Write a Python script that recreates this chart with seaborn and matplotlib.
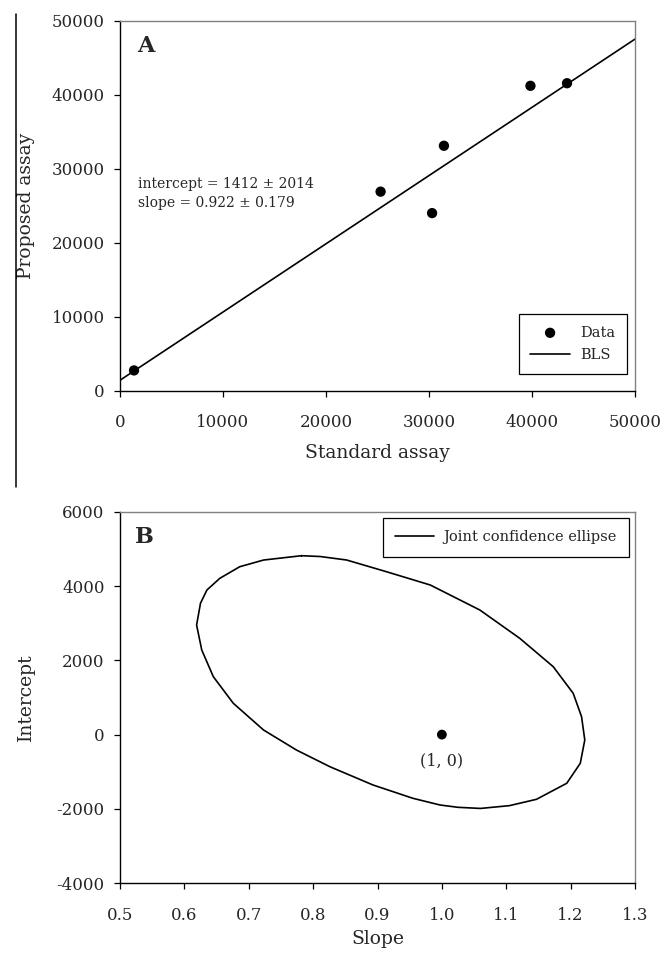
# Method comparison chart: BLS regression (A) and joint confidence ellipse (B)

import numpy as np
import pandas as pd
import matplotlib.pyplot as plt
from matplotlib.lines import Line2D
import seaborn as sns

# ---- data ----
standard_assay = [1360, 25300, 30300, 31450, 39850, 43400]
proposed_assay = [2740, 26900, 24000, 33100, 41200, 41550]

bls_intercept = 1412
bls_slope = 0.922
bls_x = [0, 50000]

ellipse_slope = [0.782, 0.811, 0.852, 0.914, 0.982, 1.059, 1.121, 1.173, 1.204, 1.217,
                 1.222, 1.215, 1.194, 1.147, 1.105, 1.060, 1.025, 0.997, 0.955, 0.893,
                 0.826, 0.774, 0.723, 0.676, 0.645, 0.627, 0.619, 0.625, 0.635, 0.655,
                 0.686, 0.723]
ellipse_intercept = [4822, 4800, 4706, 4390, 4032, 3358, 2595, 1830, 1113, 482,
                     -146, -773, -1312, -1744, -1915, -1990, -1960, -1897, -1717, -1358,
                     -865, -415, 124, 844, 1560, 2280, 2953, 3539, 3897, 4212,
                     4525, 4705]

ideal_point = [1.0, 0.0]

xticks_a = [0, 10000, 20000, 30000, 40000, 50000]
yticks_a = [0, 10000, 20000, 30000, 40000, 50000]
xticks_b = [0.5, 0.6, 0.7, 0.8, 0.9, 1.0, 1.1, 1.2, 1.3]
yticks_b = [-4000, -2000, 0, 2000, 4000, 6000]

# ---- style ----
sns.set_style("ticks")
plt.rcParams['font.family'] = ['DejaVu Serif']
plt.rcParams['axes.unicode_minus'] = False

fig = plt.figure(figsize=(6.65, 9.6), dpi=100)
ax_a = fig.add_axes([120 / 665, 1 - 390.7 / 960, 515 / 665, 370 / 960])
ax_b = fig.add_axes([120 / 665, 1 - 883 / 960, 515 / 665, 371 / 960])

# stray border line on the left of the original figure
fig.add_artist(Line2D([16 / 665, 16 / 665], [1 - 14 / 960, 1 - 487 / 960],
                      transform=fig.transFigure, color='black', lw=1.1))

# =====================================================
# Panel A: proposed vs standard assay
# =====================================================
df_pts = pd.DataFrame({'standard': standard_assay, 'proposed': proposed_assay})
df_bls = pd.DataFrame({'x': bls_x})
df_bls['y'] = bls_intercept + bls_slope * df_bls['x']

sns.lineplot(data=df_bls, x='x', y='y', ax=ax_a, color='black', lw=1.2,
             label='BLS', zorder=2)
sns.scatterplot(data=df_pts, x='standard', y='proposed', ax=ax_a, color='black',
                s=55, edgecolor='none', label='Data', zorder=3)

ax_a.set_xlim(0, 50000)
ax_a.set_ylim(0, 50000)
ax_a.set_xticks(xticks_a)
ax_a.set_yticks(yticks_a)
ax_a.set_xlabel("Standard assay", fontsize=13.5)
ax_a.set_ylabel("Proposed assay", fontsize=13.5)
ax_a.xaxis.set_label_coords(0.5, -0.145)
ax_a.yaxis.set_label_coords(-0.165, 0.5)

ax_a.text(0.033, 0.962, "A", transform=ax_a.transAxes, fontsize=16,
          fontweight='bold', va='top', ha='left')
ax_a.text(0.035, 0.578, "intercept = 1412 \u00b1 2014\nslope = 0.922 \u00b1 0.179",
          transform=ax_a.transAxes, fontsize=10, va='top', ha='left', linespacing=1.5)

handles, labels = ax_a.get_legend_handles_labels()
order = [labels.index('Data'), labels.index('BLS')]
leg_a = ax_a.legend([handles[i] for i in order], [labels[i] for i in order],
                    loc='lower right', bbox_to_anchor=(0.984, 0.045), fontsize=10.5,
                    frameon=True, fancybox=False, edgecolor='black', framealpha=1,
                    handlelength=2.7, handletextpad=0.7, borderpad=0.8,
                    labelspacing=0.6, borderaxespad=0)
leg_a.get_frame().set_linewidth(0.9)

# =====================================================
# Panel B: joint confidence ellipse for slope and intercept
# =====================================================
df_ell = pd.DataFrame({'slope': ellipse_slope + ellipse_slope[:1],
                       'intercept': ellipse_intercept + ellipse_intercept[:1]})

sns.lineplot(data=df_ell, x='slope', y='intercept', ax=ax_b, sort=False,
             estimator=None, color='black', lw=1.2, label='Joint confidence ellipse')
sns.scatterplot(x=[ideal_point[0]], y=[ideal_point[1]], ax=ax_b, color='black',
                s=50, edgecolor='none', zorder=3)
ax_b.annotate("(1, 0)", xy=(ideal_point[0], ideal_point[1]), xytext=(0, -19),
              textcoords='offset points', ha='center', va='center', fontsize=11.5)

ax_b.set_xlim(0.5, 1.3)
ax_b.set_ylim(-4000, 6000)
ax_b.set_xticks(xticks_b)
ax_b.set_yticks(yticks_b)
ax_b.set_xticklabels([f"{v:.1f}" for v in xticks_b])
ax_b.set_xlabel("Slope", fontsize=13.5)
ax_b.set_ylabel("Intercept", fontsize=13.5)
ax_b.xaxis.set_label_coords(0.5, -0.128)
ax_b.yaxis.set_label_coords(-0.165, 0.5)

ax_b.text(0.029, 0.962, "B", transform=ax_b.transAxes, fontsize=16,
          fontweight='bold', va='top', ha='left')

leg_b = ax_b.legend(loc='upper right', bbox_to_anchor=(0.988, 0.984), fontsize=10.5,
                    frameon=True, fancybox=False, edgecolor='black', framealpha=1,
                    handlelength=2.7, handletextpad=0.6, borderpad=0.85,
                    borderaxespad=0)
leg_b.get_frame().set_linewidth(0.9)

# common axis styling
for ax in (ax_a, ax_b):
    ax.tick_params(axis='both', labelsize=12, direction='out', length=4, width=0.9,
                   color='black')
    ax.tick_params(axis='x', pad=13)
    ax.tick_params(axis='y', pad=7)
    ax.spines['left'].set_color('black')
    ax.spines['bottom'].set_color('black')
    ax.spines['top'].set_color('#808080')
    ax.spines['right'].set_color('#808080')
    for s in ax.spines.values():
        s.set_linewidth(1.0)

plt.savefig("out.png", dpi=100)
